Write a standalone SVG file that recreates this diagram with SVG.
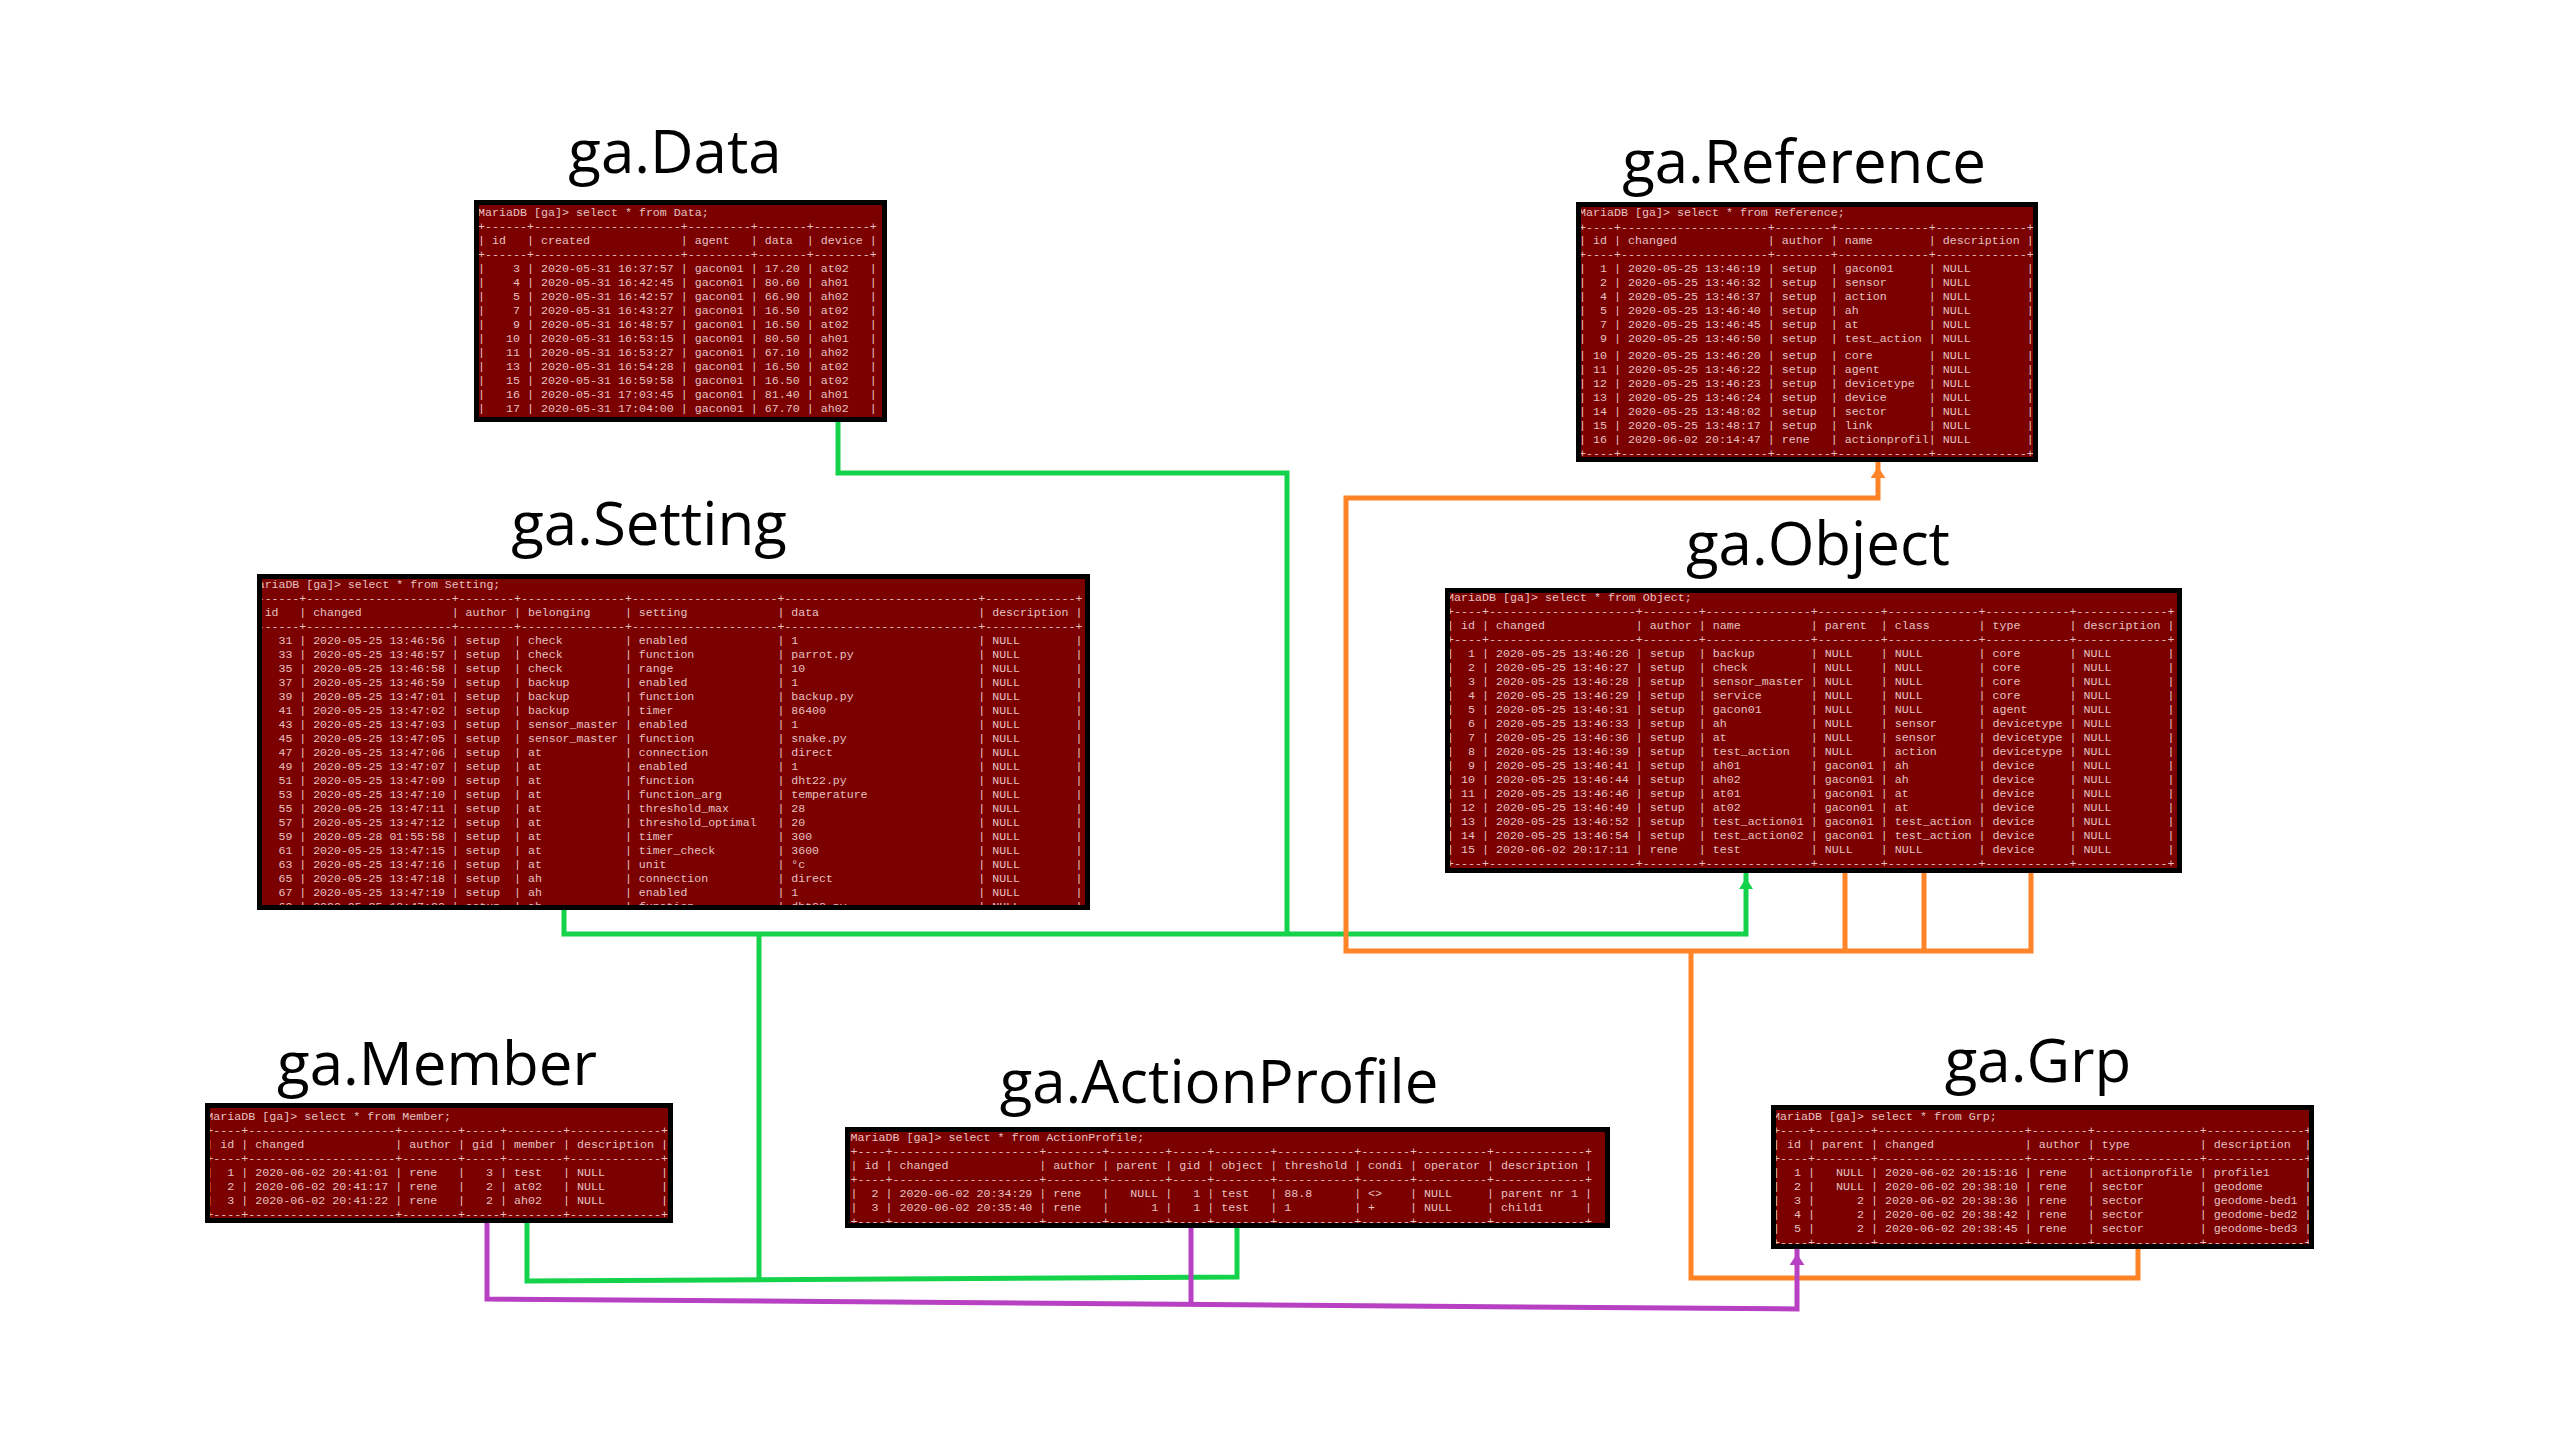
<svg xmlns="http://www.w3.org/2000/svg" width="2560" height="1440" viewBox="0 0 2560 1440">
<style>
.title{font-family:"Open Sans","Noto Sans",sans-serif;font-size:60px;fill:#000;text-anchor:middle}
.frame{fill:#000}
.inner{fill:#7b0000}
.tt{font-family:"Liberation Mono","DejaVu Sans Mono",monospace;font-size:11.667px;fill:#e6c2c2;white-space:pre}
.ts{font-size:11.55px}
.c{fill:none;stroke-width:5;stroke-linejoin:miter;stroke-linecap:butt}
.g{stroke:#14d24a}
.o{stroke:#ff8428}
.p{stroke:#b840c2}
</style>
<defs>
<marker id="ag" markerUnits="userSpaceOnUse" markerWidth="20" markerHeight="16" refX="16" refY="7" orient="auto"><path d="M0,0 L11,7 L0,14 z" fill="#14d24a"/></marker>
<marker id="ao" markerUnits="userSpaceOnUse" markerWidth="20" markerHeight="16" refX="16" refY="7.5" orient="auto"><path d="M0,0 L11,7.5 L0,15 z" fill="#ff8428"/></marker>
<marker id="ap" markerUnits="userSpaceOnUse" markerWidth="20" markerHeight="16" refX="16" refY="7.5" orient="auto"><path d="M0,0 L11,7.5 L0,15 z" fill="#b840c2"/></marker>
<clipPath id="cData"><rect x="479" y="205" width="403" height="212"/></clipPath>
<clipPath id="cRef"><rect x="1581" y="207" width="452" height="250"/></clipPath>
<clipPath id="cSet"><rect x="262" y="579" width="823" height="326"/></clipPath>
<clipPath id="cObj"><rect x="1450" y="593" width="727" height="275"/></clipPath>
<clipPath id="cMem"><rect x="210" y="1108" width="458" height="110"/></clipPath>
<clipPath id="cAP"><rect x="850" y="1132" width="755" height="91"/></clipPath>
<clipPath id="cGrp"><rect x="1776" y="1110" width="533" height="134"/></clipPath>
</defs>
<rect width="2560" height="1440" fill="#fff"/>

<g id="connectors">
<path class="c g" d="M838,422 V473 H1287 V934"/>
<path class="c g" d="M564,910 V934 H1746 V873" marker-end="url(#ag)"/>
<path class="c g" d="M759,934 V1281"/>
<path class="c g" d="M527,1223 V1281 L1237,1277 V1228"/>
<path class="c o" d="M1845,873 V950"/>
<path class="c o" d="M1924,873 V950"/>
<path class="c o" d="M2031,873 V951 H1346 V498 H1878 V462" marker-end="url(#ao)"/>
<path class="c o" d="M1691,950 V1278 H2138 V1249"/>
<path class="c p" d="M487,1223 V1299 L1797,1309 V1249" marker-end="url(#ap)"/>
<path class="c p" d="M1191,1228 V1304"/>
</g>

<g id="node-data">
<text class="title" x="675" y="173">ga.Data</text>
<rect class="frame" x="474" y="200" width="413" height="222"/>
<rect class="inner" x="479" y="205" width="403" height="212"/>
<text class="tt" xml:space="preserve" clip-path="url(#cData)"><tspan x="478" y="216">MariaDB [ga]&gt; select * from Data;</tspan><tspan x="478" y="230">+------+---------------------+---------+-------+--------+</tspan><tspan x="478" y="244">| id   | created             | agent   | data  | device |</tspan><tspan x="478" y="258">+------+---------------------+---------+-------+--------+</tspan><tspan x="478" y="272">|    3 | 2020-05-31 16:37:57 | gacon01 | 17.20 | at02   |</tspan><tspan x="478" y="286">|    4 | 2020-05-31 16:42:45 | gacon01 | 80.60 | ah01   |</tspan><tspan x="478" y="300">|    5 | 2020-05-31 16:42:57 | gacon01 | 66.90 | ah02   |</tspan><tspan x="478" y="314">|    7 | 2020-05-31 16:43:27 | gacon01 | 16.50 | at02   |</tspan><tspan x="478" y="328">|    9 | 2020-05-31 16:48:57 | gacon01 | 16.50 | at02   |</tspan><tspan x="478" y="342">|   10 | 2020-05-31 16:53:15 | gacon01 | 80.50 | ah01   |</tspan><tspan x="478" y="356">|   11 | 2020-05-31 16:53:27 | gacon01 | 67.10 | ah02   |</tspan><tspan x="478" y="370">|   13 | 2020-05-31 16:54:28 | gacon01 | 16.50 | at02   |</tspan><tspan x="478" y="384">|   15 | 2020-05-31 16:59:58 | gacon01 | 16.50 | at02   |</tspan><tspan x="478" y="398">|   16 | 2020-05-31 17:03:45 | gacon01 | 81.40 | ah01   |</tspan><tspan x="478" y="412">|   17 | 2020-05-31 17:04:00 | gacon01 | 67.70 | ah02   |</tspan></text>
</g>

<g id="node-reference">
<text class="title" x="1804" y="183">ga.Reference</text>
<rect class="frame" x="1576" y="202" width="462" height="260"/>
<rect class="inner" x="1581" y="207" width="452" height="250"/>
<text class="tt" xml:space="preserve" clip-path="url(#cRef)"><tspan x="1579" y="216">MariaDB [ga]&gt; select * from Reference;</tspan><tspan x="1579" y="231">+----+---------------------+--------+-------------+-------------+</tspan><tspan x="1579" y="244">| id | changed             | author | name        | description |</tspan><tspan x="1579" y="258">+----+---------------------+--------+-------------+-------------+</tspan><tspan x="1579" y="272">|  1 | 2020-05-25 13:46:19 | setup  | gacon01     | NULL        |</tspan><tspan x="1579" y="286">|  2 | 2020-05-25 13:46:32 | setup  | sensor      | NULL        |</tspan><tspan x="1579" y="300">|  4 | 2020-05-25 13:46:37 | setup  | action      | NULL        |</tspan><tspan x="1579" y="314">|  5 | 2020-05-25 13:46:40 | setup  | ah          | NULL        |</tspan><tspan x="1579" y="328">|  7 | 2020-05-25 13:46:45 | setup  | at          | NULL        |</tspan><tspan x="1579" y="342">|  9 | 2020-05-25 13:46:50 | setup  | test_action | NULL        |</tspan><tspan x="1579" y="359">| 10 | 2020-05-25 13:46:20 | setup  | core        | NULL        |</tspan><tspan x="1579" y="373">| 11 | 2020-05-25 13:46:22 | setup  | agent       | NULL        |</tspan><tspan x="1579" y="387">| 12 | 2020-05-25 13:46:23 | setup  | devicetype  | NULL        |</tspan><tspan x="1579" y="401">| 13 | 2020-05-25 13:46:24 | setup  | device      | NULL        |</tspan><tspan x="1579" y="415">| 14 | 2020-05-25 13:48:02 | setup  | sector      | NULL        |</tspan><tspan x="1579" y="429">| 15 | 2020-05-25 13:48:17 | setup  | link        | NULL        |</tspan><tspan x="1579" y="443">| 16 | 2020-06-02 20:14:47 | rene   | actionprofil| NULL        |</tspan><tspan x="1579" y="457">+----+---------------------+--------+-------------+-------------+</tspan></text>
</g>

<g id="node-setting">
<text class="title" x="649" y="545">ga.Setting</text>
<rect class="frame" x="257" y="574" width="833" height="336"/>
<rect class="inner" x="262" y="579" width="823" height="326"/>
<text class="tt ts" xml:space="preserve" clip-path="url(#cSet)"><tspan x="250.8" y="588">MariaDB [ga]&gt; select * from Setting;</tspan><tspan x="250.8" y="602">+------+---------------------+--------+---------------+---------------------+----------------------------+-------------+</tspan><tspan x="250.8" y="616">| id   | changed             | author | belonging     | setting             | data                       | description |</tspan><tspan x="250.8" y="630">+------+---------------------+--------+---------------+---------------------+----------------------------+-------------+</tspan><tspan x="250.8" y="644">|   31 | 2020-05-25 13:46:56 | setup  | check         | enabled             | 1                          | NULL        |</tspan><tspan x="250.8" y="658">|   33 | 2020-05-25 13:46:57 | setup  | check         | function            | parrot.py                  | NULL        |</tspan><tspan x="250.8" y="672">|   35 | 2020-05-25 13:46:58 | setup  | check         | range               | 10                         | NULL        |</tspan><tspan x="250.8" y="686">|   37 | 2020-05-25 13:46:59 | setup  | backup        | enabled             | 1                          | NULL        |</tspan><tspan x="250.8" y="700">|   39 | 2020-05-25 13:47:01 | setup  | backup        | function            | backup.py                  | NULL        |</tspan><tspan x="250.8" y="714">|   41 | 2020-05-25 13:47:02 | setup  | backup        | timer               | 86400                      | NULL        |</tspan><tspan x="250.8" y="728">|   43 | 2020-05-25 13:47:03 | setup  | sensor_master | enabled             | 1                          | NULL        |</tspan><tspan x="250.8" y="742">|   45 | 2020-05-25 13:47:05 | setup  | sensor_master | function            | snake.py                   | NULL        |</tspan><tspan x="250.8" y="756">|   47 | 2020-05-25 13:47:06 | setup  | at            | connection          | direct                     | NULL        |</tspan><tspan x="250.8" y="770">|   49 | 2020-05-25 13:47:07 | setup  | at            | enabled             | 1                          | NULL        |</tspan><tspan x="250.8" y="784">|   51 | 2020-05-25 13:47:09 | setup  | at            | function            | dht22.py                   | NULL        |</tspan><tspan x="250.8" y="798">|   53 | 2020-05-25 13:47:10 | setup  | at            | function_arg        | temperature                | NULL        |</tspan><tspan x="250.8" y="812">|   55 | 2020-05-25 13:47:11 | setup  | at            | threshold_max       | 28                         | NULL        |</tspan><tspan x="250.8" y="826">|   57 | 2020-05-25 13:47:12 | setup  | at            | threshold_optimal   | 20                         | NULL        |</tspan><tspan x="250.8" y="840">|   59 | 2020-05-28 01:55:58 | setup  | at            | timer               | 300                        | NULL        |</tspan><tspan x="250.8" y="854">|   61 | 2020-05-25 13:47:15 | setup  | at            | timer_check         | 3600                       | NULL        |</tspan><tspan x="250.8" y="868">|   63 | 2020-05-25 13:47:16 | setup  | at            | unit                | °c                         | NULL        |</tspan><tspan x="250.8" y="882">|   65 | 2020-05-25 13:47:18 | setup  | ah            | connection          | direct                     | NULL        |</tspan><tspan x="250.8" y="896">|   67 | 2020-05-25 13:47:19 | setup  | ah            | enabled             | 1                          | NULL        |</tspan><tspan x="250.8" y="910">|   69 | 2020-05-25 13:47:20 | setup  | ah            | function            | dht22.py                   | NULL        |</tspan></text>
</g>

<g id="node-object">
<text class="title" x="1818" y="565">ga.Object</text>
<rect class="frame" x="1445" y="588" width="737" height="285"/>
<rect class="inner" x="1450" y="593" width="727" height="275"/>
<text class="tt" xml:space="preserve" clip-path="url(#cObj)"><tspan x="1447" y="601">MariaDB [ga]&gt; select * from Object;</tspan><tspan x="1447" y="615">+----+---------------------+--------+---------------+---------+-------------+------------+-------------+</tspan><tspan x="1447" y="629">| id | changed             | author | name          | parent  | class       | type       | description |</tspan><tspan x="1447" y="643">+----+---------------------+--------+---------------+---------+-------------+------------+-------------+</tspan><tspan x="1447" y="657">|  1 | 2020-05-25 13:46:26 | setup  | backup        | NULL    | NULL        | core       | NULL        |</tspan><tspan x="1447" y="671">|  2 | 2020-05-25 13:46:27 | setup  | check         | NULL    | NULL        | core       | NULL        |</tspan><tspan x="1447" y="685">|  3 | 2020-05-25 13:46:28 | setup  | sensor_master | NULL    | NULL        | core       | NULL        |</tspan><tspan x="1447" y="699">|  4 | 2020-05-25 13:46:29 | setup  | service       | NULL    | NULL        | core       | NULL        |</tspan><tspan x="1447" y="713">|  5 | 2020-05-25 13:46:31 | setup  | gacon01       | NULL    | NULL        | agent      | NULL        |</tspan><tspan x="1447" y="727">|  6 | 2020-05-25 13:46:33 | setup  | ah            | NULL    | sensor      | devicetype | NULL        |</tspan><tspan x="1447" y="741">|  7 | 2020-05-25 13:46:36 | setup  | at            | NULL    | sensor      | devicetype | NULL        |</tspan><tspan x="1447" y="755">|  8 | 2020-05-25 13:46:39 | setup  | test_action   | NULL    | action      | devicetype | NULL        |</tspan><tspan x="1447" y="769">|  9 | 2020-05-25 13:46:41 | setup  | ah01          | gacon01 | ah          | device     | NULL        |</tspan><tspan x="1447" y="783">| 10 | 2020-05-25 13:46:44 | setup  | ah02          | gacon01 | ah          | device     | NULL        |</tspan><tspan x="1447" y="797">| 11 | 2020-05-25 13:46:46 | setup  | at01          | gacon01 | at          | device     | NULL        |</tspan><tspan x="1447" y="811">| 12 | 2020-05-25 13:46:49 | setup  | at02          | gacon01 | at          | device     | NULL        |</tspan><tspan x="1447" y="825">| 13 | 2020-05-25 13:46:52 | setup  | test_action01 | gacon01 | test_action | device     | NULL        |</tspan><tspan x="1447" y="839">| 14 | 2020-05-25 13:46:54 | setup  | test_action02 | gacon01 | test_action | device     | NULL        |</tspan><tspan x="1447" y="853">| 15 | 2020-06-02 20:17:11 | rene   | test          | NULL    | NULL        | device     | NULL        |</tspan><tspan x="1447" y="867">+----+---------------------+--------+---------------+---------+-------------+------------+-------------+</tspan></text>
</g>

<g id="node-member">
<text class="title" x="437" y="1085">ga.Member</text>
<rect class="frame" x="205" y="1103" width="468" height="120"/>
<rect class="inner" x="210" y="1108" width="458" height="110"/>
<text class="tt" xml:space="preserve" clip-path="url(#cMem)"><tspan x="206.3" y="1120">MariaDB [ga]&gt; select * from Member;</tspan><tspan x="206.3" y="1134">+----+---------------------+--------+-----+--------+-------------+</tspan><tspan x="206.3" y="1148">| id | changed             | author | gid | member | description |</tspan><tspan x="206.3" y="1162">+----+---------------------+--------+-----+--------+-------------+</tspan><tspan x="206.3" y="1176">|  1 | 2020-06-02 20:41:01 | rene   |   3 | test   | NULL        |</tspan><tspan x="206.3" y="1190">|  2 | 2020-06-02 20:41:17 | rene   |   2 | at02   | NULL        |</tspan><tspan x="206.3" y="1204">|  3 | 2020-06-02 20:41:22 | rene   |   2 | ah02   | NULL        |</tspan><tspan x="206.3" y="1218">+----+---------------------+--------+-----+--------+-------------+</tspan></text>
</g>

<g id="node-actionprofile">
<text class="title" x="1219" y="1103">ga.ActionProfile</text>
<rect class="frame" x="845" y="1127" width="765" height="101"/>
<rect class="inner" x="850" y="1132" width="755" height="91"/>
<text class="tt" xml:space="preserve" clip-path="url(#cAP)"><tspan x="850.5" y="1141">MariaDB [ga]&gt; select * from ActionProfile;</tspan><tspan x="850.5" y="1155">+----+---------------------+--------+--------+-----+--------+-----------+-------+----------+-------------+</tspan><tspan x="850.5" y="1169">| id | changed             | author | parent | gid | object | threshold | condi | operator | description |</tspan><tspan x="850.5" y="1183">+----+---------------------+--------+--------+-----+--------+-----------+-------+----------+-------------+</tspan><tspan x="850.5" y="1197">|  2 | 2020-06-02 20:34:29 | rene   |   NULL |   1 | test   | 88.8      | &lt;&gt;    | NULL     | parent nr 1 |</tspan><tspan x="850.5" y="1211">|  3 | 2020-06-02 20:35:40 | rene   |      1 |   1 | test   | 1         | +     | NULL     | child1      |</tspan><tspan x="850.5" y="1225">+----+---------------------+--------+--------+-----+--------+-----------+-------+----------+-------------+</tspan></text>
</g>

<g id="node-grp">
<text class="title" x="2038" y="1082">ga.Grp</text>
<rect class="frame" x="1771" y="1105" width="543" height="144"/>
<rect class="inner" x="1776" y="1110" width="533" height="134"/>
<text class="tt" xml:space="preserve" clip-path="url(#cGrp)"><tspan x="1773" y="1120">MariaDB [ga]&gt; select * from Grp;</tspan><tspan x="1773" y="1134">+----+--------+---------------------+--------+---------------+--------------+</tspan><tspan x="1773" y="1148">| id | parent | changed             | author | type          | description  |</tspan><tspan x="1773" y="1162">+----+--------+---------------------+--------+---------------+--------------+</tspan><tspan x="1773" y="1176">|  1 |   NULL | 2020-06-02 20:15:16 | rene   | actionprofile | profile1     |</tspan><tspan x="1773" y="1190">|  2 |   NULL | 2020-06-02 20:38:10 | rene   | sector        | geodome      |</tspan><tspan x="1773" y="1204">|  3 |      2 | 2020-06-02 20:38:36 | rene   | sector        | geodome-bed1 |</tspan><tspan x="1773" y="1218">|  4 |      2 | 2020-06-02 20:38:42 | rene   | sector        | geodome-bed2 |</tspan><tspan x="1773" y="1232">|  5 |      2 | 2020-06-02 20:38:45 | rene   | sector        | geodome-bed3 |</tspan><tspan x="1773" y="1246">+----+--------+---------------------+--------+---------------+--------------+</tspan></text>
</g>
</svg>
